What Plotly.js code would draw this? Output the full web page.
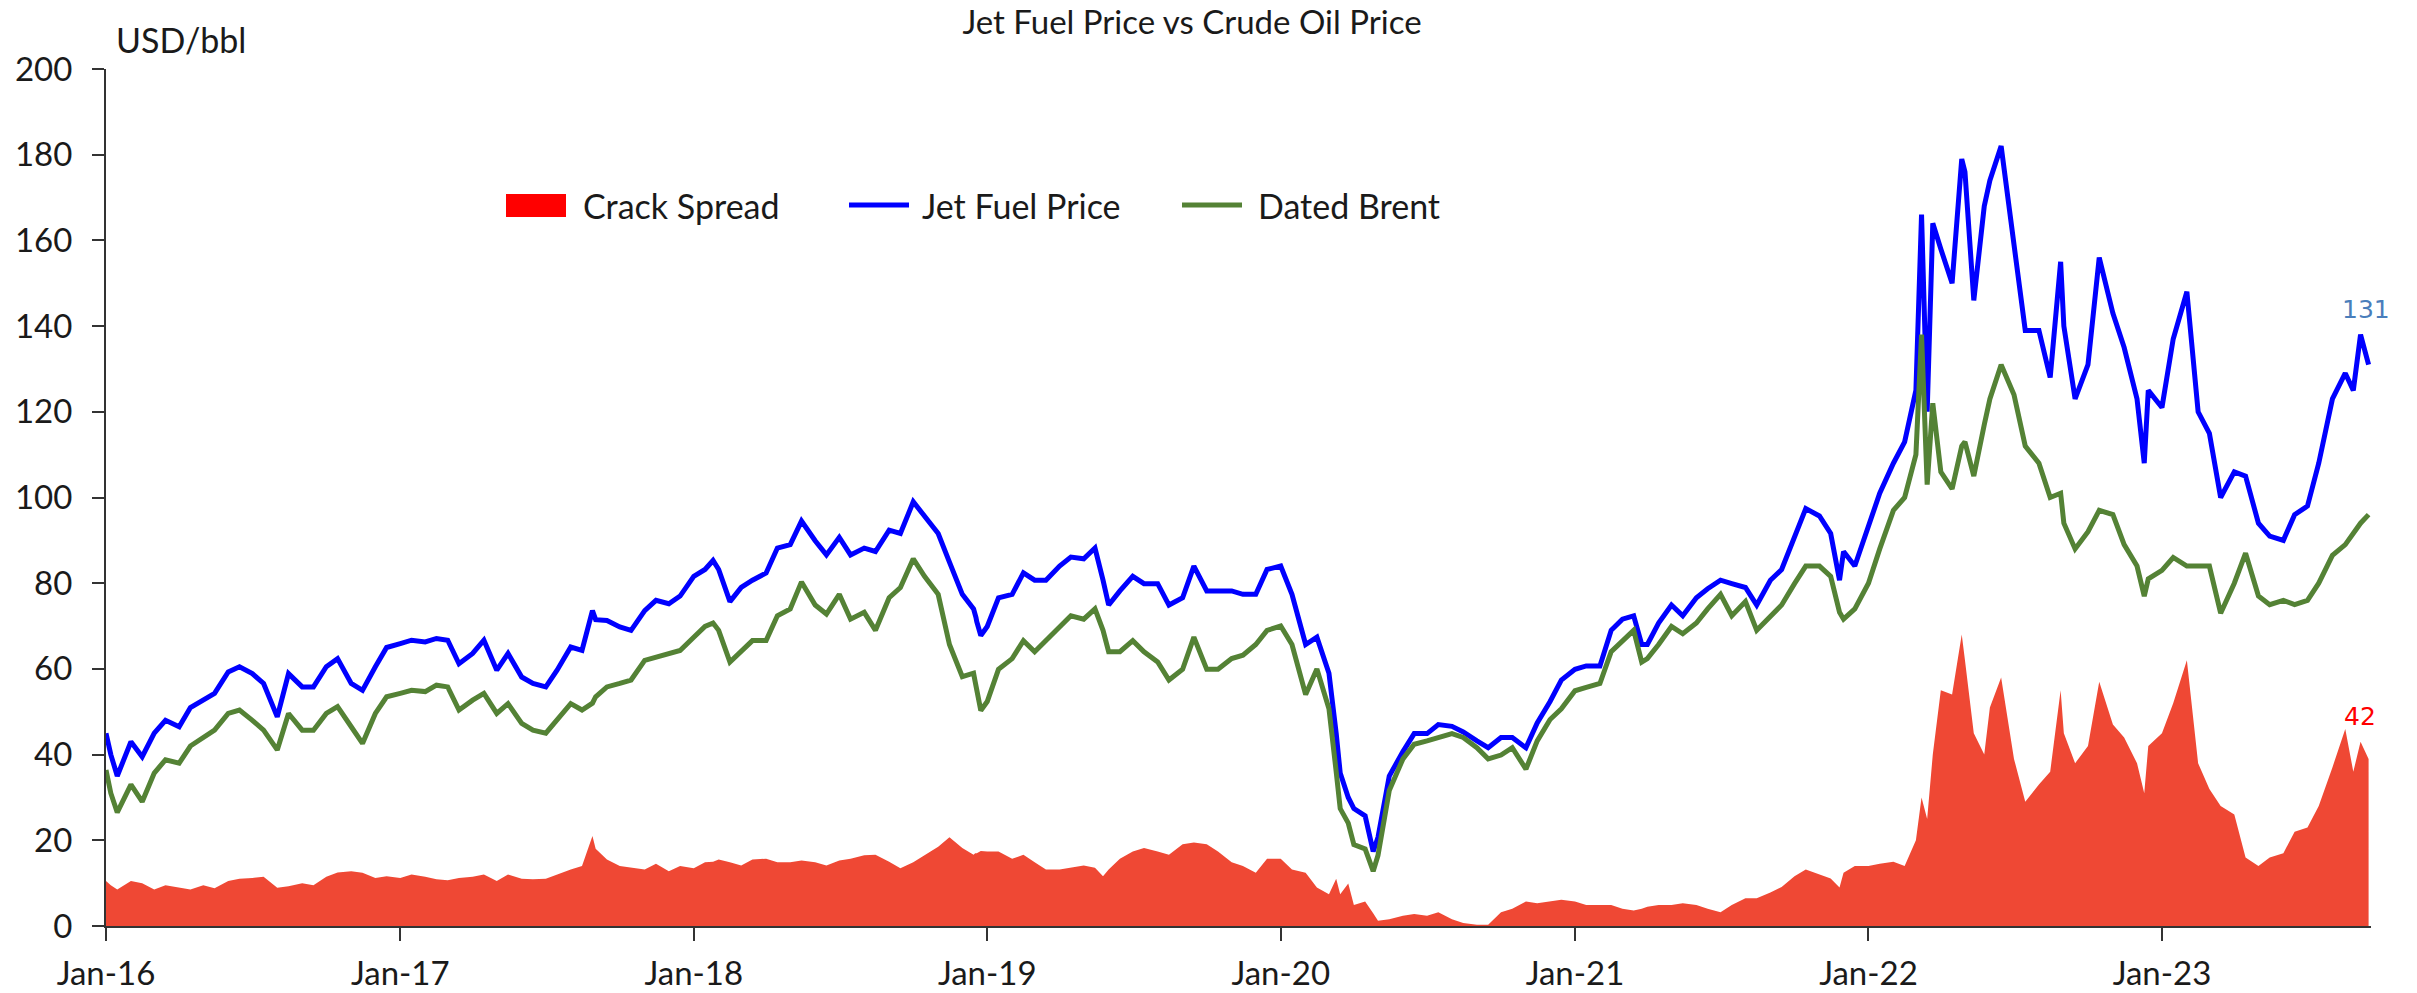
<!DOCTYPE html>
<html>
<head>
<meta charset="utf-8">
<script src="https://cdn.plot.ly/plotly-3.0.1.min.js"></script>
<style>
  html, body { margin: 0; padding: 0; background: #ffffff; }
  #chart { width: 2417px; height: 993px; }
</style>
</head>
<body>
<div id="chart"></div>
<script>
// ---------------- DATA ----------------
const dates = [
  "2016-01-01","2016-01-07","2016-01-15","2016-02-01","2016-02-15","2016-03-01","2016-03-15","2016-04-01","2016-04-15","2016-05-01","2016-05-15","2016-06-01","2016-06-15","2016-07-01","2016-07-15","2016-08-01","2016-08-15","2016-09-01","2016-09-15","2016-10-01","2016-10-15","2016-11-01","2016-11-15","2016-12-01","2016-12-15",
  "2017-01-01","2017-01-15","2017-02-01","2017-02-15","2017-03-01","2017-03-15","2017-04-01","2017-04-15","2017-05-01","2017-05-15","2017-06-01","2017-06-15","2017-07-01","2017-07-15","2017-08-01","2017-08-15","2017-08-28","2017-09-01","2017-09-15","2017-10-01","2017-10-15","2017-11-01","2017-11-15","2017-12-01","2017-12-15",
  "2018-01-01","2018-01-15","2018-01-25","2018-02-01","2018-02-15","2018-03-01","2018-03-15","2018-04-01","2018-04-15","2018-05-01","2018-05-15","2018-06-01","2018-06-15","2018-07-01","2018-07-15","2018-08-01","2018-08-15","2018-09-01","2018-09-15","2018-10-01","2018-10-15","2018-11-01","2018-11-15","2018-12-01","2018-12-15","2018-12-17","2018-12-18","2018-12-19","2018-12-24",
  "2019-01-01","2019-01-15","2019-02-01","2019-02-15","2019-03-01","2019-03-15","2019-04-01","2019-04-15","2019-05-01","2019-05-15","2019-05-25","2019-06-01","2019-06-15","2019-07-01","2019-07-15","2019-08-01","2019-08-15","2019-09-01","2019-09-15","2019-10-01","2019-10-15","2019-11-01","2019-11-15","2019-12-01","2019-12-15",
  "2020-01-01","2020-01-15","2020-02-01","2020-02-15","2020-03-01","2020-03-10","2020-03-15","2020-03-25","2020-04-01","2020-04-15","2020-04-25","2020-05-01","2020-05-15","2020-06-01","2020-06-15","2020-07-01","2020-07-15","2020-08-01","2020-08-15","2020-09-01","2020-09-15","2020-10-01","2020-10-15","2020-11-01","2020-11-15","2020-12-01","2020-12-15",
  "2021-01-01","2021-01-15","2021-02-01","2021-02-15","2021-03-01","2021-03-15","2021-03-25","2021-04-01","2021-04-15","2021-05-01","2021-05-15","2021-06-01","2021-06-15","2021-07-01","2021-07-15","2021-08-01","2021-08-15","2021-09-01","2021-09-15","2021-10-01","2021-10-15","2021-11-01","2021-11-15","2021-11-26","2021-12-01","2021-12-15",
  "2022-01-01","2022-01-15","2022-02-01","2022-02-15","2022-03-01","2022-03-08","2022-03-15","2022-03-22","2022-04-01","2022-04-15","2022-04-27","2022-05-01","2022-05-12","2022-05-25","2022-06-01","2022-06-15","2022-07-01","2022-07-15","2022-08-01","2022-08-15","2022-08-28","2022-09-01","2022-09-15","2022-10-01","2022-10-15","2022-11-01","2022-11-15","2022-12-01","2022-12-10","2022-12-15",
  "2023-01-01","2023-01-15","2023-02-01","2023-02-15","2023-03-01","2023-03-15","2023-04-01","2023-04-15","2023-05-01","2023-05-15","2023-06-01","2023-06-15","2023-07-01","2023-07-15","2023-08-01","2023-08-17","2023-08-27","2023-09-05","2023-09-15"
];

const jetFuel = [
  45,40,35,43,39.5,45,48,46.5,51,52.7,54.3,59.3,60.5,58.9,56.6,48.8,58.9,55.8,55.8,60.5,62.4,56.6,55,60.5,65,
  65.9,66.7,66.3,67.1,66.7,61.2,63.6,66.7,59.7,63.6,58.1,56.6,55.8,59.7,65.1,64.3,73.6,71.5,71.3,69.8,69,73.6,76,75.2,77,
  81.6,83.2,85.3,83.2,75.7,79,80.7,82.4,88.2,89,94.5,89.9,86.6,90.7,86.6,88.2,87.4,92.4,91.6,99,95.7,91.6,84.9,77.4,74,73,72,71,67.8,
  69.9,76.6,77.4,82.4,80.7,80.7,84,86.1,85.7,88.2,80.7,74.9,78.2,81.6,79.9,79.9,74.9,76.6,84,78.2,78.2,78.2,77.4,77.4,83.2,
  84,77.4,65.7,67.4,59,45,35.7,30,27.4,25.7,17.4,20.7,35,40.7,44.9,44.9,47,46.6,45.3,43.2,41.6,44,44,41.6,47.4,52.4,57.4,
  59.9,60.7,60.7,69,71.6,72.4,65.7,65.7,70.7,74.9,72.4,76.6,78.7,80.7,79.9,79,74.9,80.7,83.2,90.7,97.4,95.7,91.6,80.7,87.4,84,
  93,101,108,113,125,166,120,164,158,150,179,176,146,168,174,182,159,139,139,128,155,140,123,131,156,143,135,123,108,125,
  121,137,148,120,115,100,106,105,94,91,90,96,98,108,123,129,125,138,131
];

const datedBrent = [
  36.4,31,26.5,33,29,35.7,38.8,38,42,44,45.7,49.6,50.4,48,45.7,41.1,49.6,45.7,45.7,49.6,51.2,46.5,42.6,49.6,53.5,
  54.3,55,54.7,56.2,55.8,50.4,52.7,54.3,49.6,51.9,47.3,45.7,45,48,51.9,50.4,52,53.5,55.8,56.6,57.4,62,62.8,63.6,64.3,
  67.4,69.9,70.7,69,61.6,64,66.6,66.6,72.4,74,80.3,74.9,72.8,77.4,71.6,73.2,69,76.6,79,85.7,81.6,77.4,65.7,58.2,59,57,56,55,50.3,
  52.4,59.9,62.4,66.6,64,66.6,69.9,72.4,71.6,74,69,64,64,66.6,64,61.6,57.4,59.9,67.4,59.9,59.9,62.4,63.2,65.7,69,
  70,65.7,54,60,50.7,36,27.4,24,19,18,12.8,16.5,31.6,39,42.4,43.2,44,44.9,44,41.6,39,39.9,41.6,36.6,43.2,48.2,50.7,
  54.9,55.7,56.6,64,66.6,69,61.6,62.4,65.7,69.9,68.2,70.7,74,77.4,72.4,75.7,69,72.4,74.9,79.9,84,84,81.6,73.2,71.6,74,
  80,88,97,100,110,138,103,122,106,102,112,113,105,117,123,131,124,112,108,100,101,94,88,92,97,96,89,84,77,81,
  83,86,84,84,84,73,80,87,77,75,76,75,76,80,86.5,89,91.5,94,96
];

// null = the one-day gap visible in the reference's red columns (Dec 2018)
const crackSpread = [
  10.5,9.5,8.5,10.5,10,8.5,9.5,9,8.5,9.5,8.8,10.5,11,11.2,11.5,8.9,9.3,10,9.5,11.5,12.5,12.8,12.4,11.2,11.6,
  11.2,12,11.5,10.9,10.7,11.2,11.5,12,10.5,12,11,10.9,11,12,13.2,14,21,18,15.5,14,13.6,13.2,14.5,12.8,14,
  13.5,14.9,15,15.5,14.9,14.1,15.5,15.7,14.9,14.9,15.3,14.9,14.1,15.3,15.7,16.5,16.6,15,13.5,14.9,16.6,18.5,20.7,18.2,16.6,17,null,17,17.5,
  17.4,17.4,15.7,16.6,14.9,13.2,13.2,13.6,14.1,13.6,11.6,13.2,15.7,17.4,18.2,17.4,16.6,19.1,19.5,19.1,17.4,14.9,14,12.4,15.7,
  15.7,13.2,12.4,9,7.4,11,7.4,9.9,4.9,5.7,3,1.2,1.6,2.4,2.8,2.4,3.2,1.6,0.7,0.3,0.3,3.2,4,5.7,5.3,5.7,6.1,
  5.7,4.9,4.9,4.9,4,3.6,4,4.5,4.9,4.9,5.3,4.9,4,3.2,4.9,6.5,6.5,7.8,9.1,11.6,13.2,12,11.1,9,12.4,14,
  14,14.5,15,14,20,30,25,40,55,54,68,62,45,40,51,58,39,29,33,36,55,45,38,42,57,47,44,38,31,42,
  45,52,62,38,32,28,26,16,14,16,17,22,23,28,37,46,36,43,39
];

const tickDates  = ["2016-01-01","2017-01-01","2018-01-01","2019-01-01","2020-01-01","2021-01-01","2022-01-01","2023-01-01"];
const tickLabels = ["Jan-16","Jan-17","Jan-18","Jan-19","Jan-20","Jan-21","Jan-22","Jan-23"];

const seriesNames  = ["Crack Spread","Jet Fuel Price","Dated Brent"];
const lastLabels   = ["42","131"];

// ---------------- LAYOUT GEOMETRY ----------------
const W = 2417, H = 993;
const M = { l: 106, r: 46, t: 69, b: 67 };
const plotW = W - M.l - M.r, plotH = H - M.t - M.b;
const px = x => (x - M.l) / plotW;          // pixel -> paper x
const py = y => (H - M.b - y) / plotH;      // pixel -> paper y

const FONT = "Lato, 'Open Sans', sans-serif";
const TXT = "#1a1a1a";
const RED_FILL = "#EF4834", BLUE = "#0000FF", GREEN = "#548235";

const traces = [
  { x: dates, y: crackSpread, name: seriesNames[0], type: "scatter", mode: "lines", connectgaps: false,
    fill: "tozeroy", fillcolor: RED_FILL, line: { width: 0, color: RED_FILL }, showlegend: false },
  { x: dates, y: jetFuel, name: seriesNames[1], type: "scatter", mode: "lines",
    line: { width: 5, color: BLUE }, showlegend: false },
  { x: dates, y: datedBrent, name: seriesNames[2], type: "scatter", mode: "lines",
    line: { width: 5, color: GREEN }, showlegend: false }
];

// custom legend matching the reference's wide symbols
const legY = 205;
const shapes = [
  { type: "rect", xref: "paper", yref: "paper", x0: px(506), x1: px(566), y0: py(217), y1: py(194),
    fillcolor: "#FF0000", line: { width: 0 } },
  { type: "line", xref: "paper", yref: "paper", x0: px(849), x1: px(909), y0: py(legY), y1: py(legY),
    line: { color: BLUE, width: 5 } },
  { type: "line", xref: "paper", yref: "paper", x0: px(1182), x1: px(1242), y0: py(legY), y1: py(legY),
    line: { color: GREEN, width: 5 } }
];

const annotations = [
  { text: seriesNames[0], xref: "paper", yref: "paper", x: px(581), y: py(legY), xanchor: "left", yanchor: "middle",
    showarrow: false, font: { family: FONT, size: 34, color: TXT } },
  { text: seriesNames[1], xref: "paper", yref: "paper", x: px(920), y: py(legY), xanchor: "left", yanchor: "middle",
    showarrow: false, font: { family: FONT, size: 34, color: TXT } },
  { text: seriesNames[2], xref: "paper", yref: "paper", x: px(1256), y: py(legY), xanchor: "left", yanchor: "middle",
    showarrow: false, font: { family: FONT, size: 34, color: TXT } },
  { text: "USD/bbl", xref: "paper", yref: "paper", x: px(114), y: py(40), xanchor: "left", yanchor: "middle",
    showarrow: false, font: { family: FONT, size: 34, color: TXT } },
  { text: lastLabels[1], xref: "paper", yref: "paper", x: px(2366), y: py(309), xanchor: "center", yanchor: "middle",
    showarrow: false, font: { family: "DejaVu Sans, sans-serif", size: 25, color: "#4A7EBB" } },
  { text: lastLabels[0], xref: "paper", yref: "paper", x: px(2360), y: py(716), xanchor: "center", yanchor: "middle",
    showarrow: false, font: { family: "DejaVu Sans, sans-serif", size: 25, color: "#FF0000" } }
];

const layout = {
  width: W, height: H,
  margin: { l: M.l, r: M.r, t: M.t, b: M.b, pad: 0 },
  paper_bgcolor: "#ffffff", plot_bgcolor: "#ffffff",
  showlegend: false,
  title: { text: "Jet Fuel Price vs Crude Oil Price", x: 1192 / W, xref: "container", xanchor: "center",
           y: 1 - 22 / H, yref: "container", yanchor: "middle",
           font: { family: FONT, size: 33, color: TXT } },
  xaxis: {
    type: "date", range: ["2016-01-01", "2023-09-18"],
    tickmode: "array", tickvals: tickDates, ticktext: tickLabels,
    ticks: "outside", ticklen: 13, tickwidth: 2, tickcolor: "#333333",
    showline: true, linecolor: "#333333", linewidth: 2,
    showgrid: false, zeroline: false, ticklabelstandoff: 4,
    tickfont: { family: FONT, size: 33, color: TXT }
  },
  yaxis: {
    range: [0, 200], tickmode: "linear", tick0: 0, dtick: 20,
    ticks: "outside", ticklen: 12, tickwidth: 2, tickcolor: "#333333",
    showline: true, linecolor: "#333333", linewidth: 2,
    showgrid: false, zeroline: false, ticklabelstandoff: 13,
    tickfont: { family: FONT, size: 33, color: TXT }
  },
  shapes: shapes,
  annotations: annotations
};

Plotly.newPlot("chart", traces, layout, { displayModeBar: false, staticPlot: true });
</script>
</body>
</html>
